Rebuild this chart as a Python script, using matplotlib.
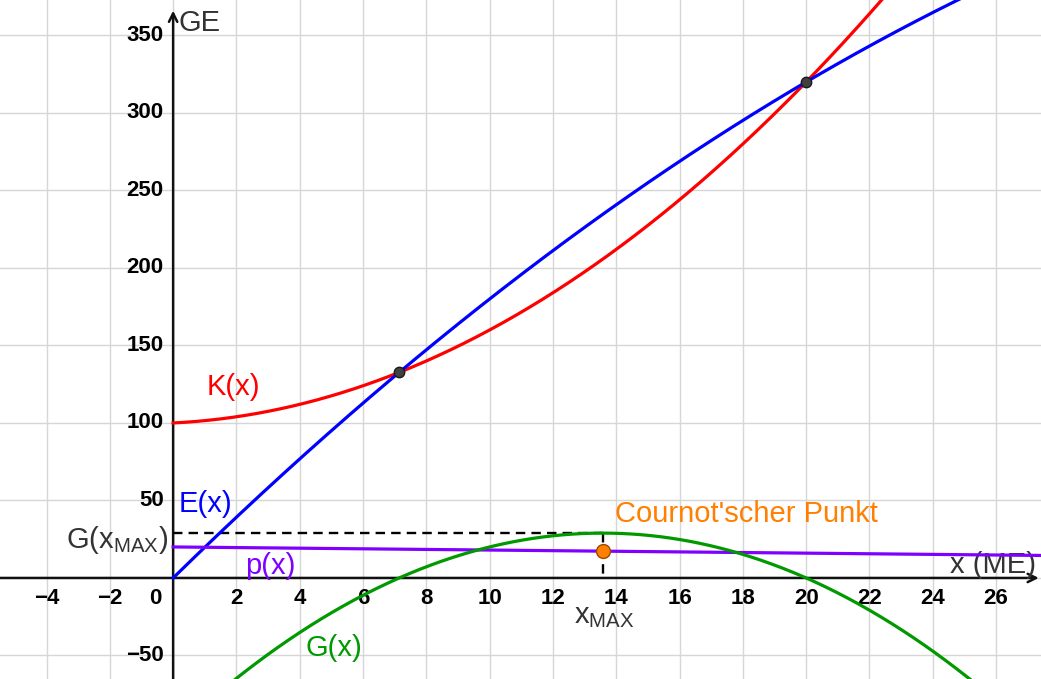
import numpy as np
import matplotlib
matplotlib.use('Agg')
import matplotlib.pyplot as plt

plt.rcParams['font.family'] = ['Liberation Sans', 'DejaVu Sans']
plt.rcParams['mathtext.fontset'] = 'custom'
plt.rcParams['mathtext.rm'] = 'Liberation Sans'
plt.rcParams['mathtext.default'] = 'regular'

# Polynomial coefficients (highest power first)
K_coef = [0.5, 1.0, 100.0]      # cost function K(x)
E_coef = [-0.2, 20.0, 0.0]      # revenue E(x)
p_coef = [-0.2, 20.0]           # price function p(x)
G_coef = [-0.7, 19.0, -100.0]   # profit G(x) = E(x) - K(x)

x_ticks = [-4, -2, 2, 4, 6, 8, 10, 12, 14, 16, 18, 20, 22, 24, 26]
y_ticks = [-50, 50, 100, 150, 200, 250, 300, 350]
x_grid = [-4, -2, 0, 2, 4, 6, 8, 10, 12, 14, 16, 18, 20, 22, 24, 26]
y_grid = [-50, 0, 50, 100, 150, 200, 250, 300, 350]

XMIN, XMAX = -5.47, 27.42
YMIN, YMAX = -65.2, 372.9

fig = plt.figure(figsize=(10.41, 6.79), dpi=100)
ax = fig.add_axes([0, 0, 1, 1])
ax.set_xlim(XMIN, XMAX)
ax.set_ylim(YMIN, YMAX)
for s in ax.spines.values():
    s.set_visible(False)
ax.set_xticks(x_grid)
ax.set_yticks(y_grid)
ax.tick_params(length=0, labelbottom=False, labelleft=False)
ax.grid(True, color='#d6d6d6', lw=1.0, zorder=0)

# axes with arrows
ax.annotate('', xy=(27.35, 0), xytext=(XMIN - 0.2, 0),
            arrowprops=dict(arrowstyle='->', lw=1.8, color='#111111',
                            mutation_scale=15, shrinkA=0, shrinkB=0), zorder=3)
ax.annotate('', xy=(0, 366), xytext=(0, YMIN - 5),
            arrowprops=dict(arrowstyle='->', lw=1.8, color='#111111',
                            mutation_scale=15, shrinkA=0, shrinkB=0), zorder=3)

# tick labels
tfs = 16
for t in x_ticks:
    ax.text(t, -13, '\u2212%d' % -t if t < 0 else str(t), ha='center', va='center',
            fontsize=tfs, fontweight='bold', color='black')
ax.text(-0.57, -13, '0', ha='center', va='center', fontsize=tfs,
        fontweight='bold', color='black')
for t in y_ticks:
    ax.text(-0.3, t, '\u2212%d' % -t if t < 0 else str(t), ha='right', va='center',
            fontsize=tfs, fontweight='bold', color='black')

# curves
xs = np.linspace(0, 27.6, 800)
ax.plot(xs, np.polyval(K_coef, xs), color='#ff0000', lw=2.3, zorder=4)
ax.plot(xs, np.polyval(E_coef, xs), color='#0000ff', lw=2.3, zorder=4)
ax.plot(xs, np.polyval(p_coef, xs), color='#7f00ff', lw=2.3, zorder=4)
ax.plot(xs, np.polyval(G_coef, xs), color='#009900', lw=2.3, zorder=4)

# Cournot point and x_MAX
d = np.polyder(G_coef)
x_max = -d[1] / d[0]
G_max = np.polyval(G_coef, x_max)
ax.plot([0, x_max], [G_max, G_max], color='black', lw=1.7, dashes=(4, 2.6), zorder=3)
ax.plot([x_max, x_max], [G_max, 0], color='black', lw=1.7, dashes=(4, 2.6), zorder=3)
ax.plot(x_max, np.polyval(p_coef, x_max), 'o', ms=10, mfc='#ff7f00', mec='#994c00',
        mew=1.0, zorder=6)

# intersection points K = E
roots = np.roots(np.polysub(E_coef, K_coef))
for r in np.real(roots):
    ax.plot(r, np.polyval(K_coef, r), 'o', ms=7.5, mfc='#404040', mec='#1a1a1a',
            mew=1.0, zorder=6)

# labels
fs = 21
ax.text(1.07, 123, 'K(x)', color='#ff0000', fontsize=fs, va='center', ha='left')
ax.text(0.16, 48, 'E(x)', color='#0000ff', fontsize=fs, va='center', ha='left')
ax.text(2.27, 7.5, 'p(x)', color='#7f00ff', fontsize=fs, va='center', ha='left')
ax.text(4.17, -45, 'G(x)', color='#009900', fontsize=fs, va='center', ha='left')
ax.text(13.97, 41, "Cournot'scher Punkt", color='#ff7f00', fontsize=fs,
        va='center', ha='left')
ax.text(-0.15, 24.5, r'G(x$_{MAX}$)', color='#333333', fontsize=fs,
        va='center', ha='right')
ax.text(x_max + 0.05, -24.5, r'x$_{MAX}$', color='#333333', fontsize=fs,
        va='center', ha='center')
ax.text(24.55, 8.5, 'x (ME)', color='#333333', fontsize=fs, va='center', ha='left')
ax.text(0.16, 358, 'GE', color='#333333', fontsize=fs, va='center', ha='left')

fig.savefig('out.png', dpi=100)
